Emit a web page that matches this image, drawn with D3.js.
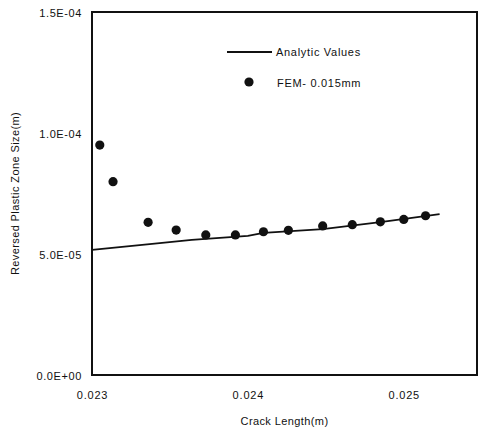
<!DOCTYPE html>
<html>
<head>
<meta charset="utf-8">
<script src="https://cdn.jsdelivr.net/npm/d3@7"></script>
<style>
  html, body { margin: 0; padding: 0; background: #fff; }
  svg { display: block; }
  text { font-family: "Liberation Sans", Arial, sans-serif; fill: #111; }
</style>
</head>
<body>
<svg id="chart" width="478" height="430"></svg>
<script>
// Crack length (m) at each FEM result
const femX = [0.02305, 0.023135, 0.02336, 0.02354, 0.02373, 0.02392, 0.0241, 0.02426, 0.02448, 0.02467, 0.02485, 0.025, 0.02514];
// Reversed plastic zone size (m) from FEM, 0.015mm element
const femY = [9.50e-5, 7.99e-5, 6.31e-5, 5.99e-5, 5.79e-5, 5.79e-5, 5.92e-5, 5.98e-5, 6.16e-5, 6.21e-5, 6.33e-5, 6.43e-5, 6.58e-5];
// Analytic curve
const anaX = [0.023, 0.02337, 0.02364, 0.024, 0.0241, 0.02448, 0.02485, 0.02523];
const anaY = [5.17e-5, 5.41e-5, 5.58e-5, 5.75e-5, 5.87e-5, 6.03e-5, 6.32e-5, 6.65e-5];
// Axis ticks and labels
const xTicks = [0.023, 0.024, 0.025];
const xTickLabels = ["0.023", "0.024", "0.025"];
const yTicks = [0, 5e-5, 1e-4, 1.5e-4];
const yTickLabels = ["0.0E+00", "5.0E-05", "1.0E-04", "1.5E-04"];
const seriesNames = ["Analytic Values", "FEM- 0.015mm"];

const svg = d3.select("#chart");
const plotL = 92, plotR = 477, plotT = 12, plotB = 375;

const x = d3.scaleLinear().domain([0.023, 0.02547]).range([plotL, plotR]);
const y = d3.scaleLinear().domain([0, 1.5e-4]).range([plotB, plotT]);

// Frame
svg.append("rect")
  .attr("x", plotL).attr("y", plotT)
  .attr("width", plotR - plotL).attr("height", plotB - plotT)
  .attr("fill", "none").attr("stroke", "#111").attr("stroke-width", 2);

// Y tick labels
const yAxis = d3.axisLeft(y).tickValues(yTicks)
  .tickFormat((d, i) => yTickLabels[i]).tickSize(0).tickPadding(10);
const gy = svg.append("g").attr("transform", `translate(${plotL},0)`).call(yAxis);
gy.select(".domain").remove();
gy.selectAll("text")
  .style("font-family", '"Liberation Sans", Arial, sans-serif')
  .style("font-size", "11px").style("letter-spacing", "0.6px").attr("fill", "#111")
  .attr("dy", "0.45em");

// X tick labels
const xAxis = d3.axisBottom(x).tickValues(xTicks)
  .tickFormat((d, i) => xTickLabels[i]).tickSize(0).tickPadding(16);
const gx = svg.append("g").attr("transform", `translate(0,${plotB})`).call(xAxis);
gx.select(".domain").remove();
gx.selectAll("text")
  .style("font-family", '"Liberation Sans", Arial, sans-serif')
  .style("font-size", "11px").style("letter-spacing", "0.8px").attr("fill", "#111");

// Axis titles
svg.append("text")
  .attr("x", (plotL + plotR) / 2).attr("y", 425)
  .attr("text-anchor", "middle")
  .style("font-size", "11px").style("letter-spacing", "0.4px")
  .text("Crack Length(m)");
svg.append("text")
  .attr("transform", `translate(19,${(plotT + plotB) / 2}) rotate(-90)`)
  .attr("text-anchor", "middle")
  .style("font-size", "11px").style("letter-spacing", "0.4px")
  .text("Reversed Plastic Zone Size(m)");

// Analytic line
const anaData = anaX.map((v, i) => [v, anaY[i]]);
svg.append("path")
  .datum(anaData)
  .attr("fill", "none").attr("stroke", "#111").attr("stroke-width", 1.8)
  .attr("d", d3.line().x(d => x(d[0])).y(d => y(d[1])));

// FEM points
svg.append("g").selectAll("circle")
  .data(femX.map((v, i) => [v, femY[i]]))
  .join("circle")
  .attr("cx", d => x(d[0])).attr("cy", d => y(d[1]))
  .attr("r", 4.6).attr("fill", "#111");

// Legend
const lg = svg.append("g");
lg.append("line").attr("x1", 227).attr("x2", 272).attr("y1", 52).attr("y2", 52)
  .attr("stroke", "#111").attr("stroke-width", 1.8);
lg.append("text").attr("x", 276).attr("y", 56)
  .style("font-size", "11px").style("letter-spacing", "0.7px").text(seriesNames[0]);
lg.append("circle").attr("cx", 249).attr("cy", 82).attr("r", 4.6).attr("fill", "#111");
lg.append("text").attr("x", 277).attr("y", 87)
  .style("font-size", "11px").style("letter-spacing", "0.7px").text(seriesNames[1]);
</script>
</body>
</html>
